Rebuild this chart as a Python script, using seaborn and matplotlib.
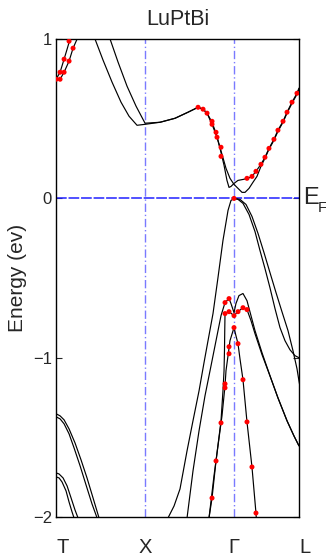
import numpy as np
import matplotlib
matplotlib.use("Agg")
import matplotlib.pyplot as plt
import seaborn as sns

# ── k-path (high symmetry points) ───────────────────────────
kpt_labels = ["T", "X", "\u0393", "L"]
kpt_pos = [0.0, 1.0, 2.0, 2.73]

# ── band energies (eV) ──────────────────────────────────────
# conduction bands
cb1_k = [0, 0.045, 0.090, 0.124, 0.157, 0.191]
cb1_e = [0.748, 0.792, 0.874, 0.937, 1.0, 1.069]
cb2_k = [0, 0.045, 0.090, 0.146, 0.191, 0.236, 0.270]
cb2_e = [0.748, 0.748, 0.792, 0.862, 0.943, 1.0, 1.057]

cb3_k = [0.416, 0.438, 0.528, 0.629, 0.730, 0.820, 0.910, 1.0, 1.169, 1.337, 1.483,
         1.596, 1.652, 1.697, 1.753, 1.798, 1.843, 1.888, 1.921, 1.944, 1.966, 2.0,
         2.045, 2.101, 2.157, 2.202, 2.247, 2.303, 2.348, 2.393, 2.449, 2.494, 2.551,
         2.596, 2.652, 2.708, 2.730]
cb3_e = [1.044, 1.0, 0.868, 0.730, 0.604, 0.516, 0.459, 0.465, 0.478, 0.503, 0.541,
         0.572, 0.560, 0.535, 0.478, 0.409, 0.314, 0.208, 0.113, 0.069, 0.075, 0.094,
         0.113, 0.119, 0.126, 0.138, 0.170, 0.214, 0.258, 0.314, 0.371, 0.428, 0.484,
         0.541, 0.604, 0.660, 0.692]
cb4_k = [0.584, 0.607, 0.697, 0.798, 0.899, 1.0, 1.169, 1.337, 1.483, 1.596, 1.652,
         1.697, 1.753, 1.809, 1.865, 1.910, 1.955, 2.0, 2.045, 2.090, 2.124, 2.169,
         2.213, 2.258, 2.303, 2.348, 2.393, 2.449, 2.494, 2.551, 2.596, 2.652, 2.708,
         2.730]
cb4_e = [1.044, 1.0, 0.855, 0.704, 0.579, 0.472, 0.478, 0.503, 0.541, 0.572, 0.560,
         0.535, 0.465, 0.384, 0.277, 0.189, 0.126, 0.088, 0.063, 0.038, 0.038, 0.063,
         0.101, 0.138, 0.201, 0.252, 0.308, 0.365, 0.421, 0.478, 0.535, 0.597, 0.654,
         0.686]

# valence bands
vb1_k = [2.0, 1.966, 1.933, 1.876, 1.820, 1.764, 1.708, 1.663, 1.607, 1.539, 1.472,
         1.393, 1.326, 1.258, 1.213]
vb1_e = [0.0, -0.013, -0.075, -0.264, -0.497, -0.723, -0.893, -1.031, -1.208, -1.396,
         -1.585, -1.824, -1.931, -2.006, -2.057]
vb2_k = [2.0, 2.045, 2.101, 2.169, 2.236, 2.292, 2.348, 2.404, 2.461, 2.517, 2.573,
         2.629, 2.685, 2.730]
vb2_e = [0.0, -0.006, -0.031, -0.101, -0.208, -0.327, -0.440, -0.560, -0.692, -0.811,
         -0.893, -0.950, -0.987, -1.0]
vb3_k = [2.0, 2.067, 2.135, 2.202, 2.270, 2.337, 2.404, 2.472, 2.539, 2.607, 2.663,
         2.708, 2.730, 2.742]
vb3_e = [0.0, -0.006, -0.038, -0.113, -0.220, -0.340, -0.465, -0.591, -0.711, -0.830,
         -0.956, -1.069, -1.145, -1.182]
vb4_k = [1.449, 1.472, 1.539, 1.607, 1.674, 1.742, 1.809, 1.854, 1.899, 1.944, 1.966,
         2.0, 2.022, 2.056, 2.101, 2.146, 2.191, 2.236, 2.315, 2.404, 2.494, 2.596,
         2.674, 2.730]
vb4_e = [-2.069, -2.006, -1.711, -1.459, -1.239, -1.050, -0.862, -0.736, -0.654,
         -0.629, -0.660, -0.717, -0.660, -0.610, -0.597, -0.642, -0.736, -0.830,
         -0.969, -1.113, -1.252, -1.396, -1.491, -1.553]
vb5_k = [1.697, 1.719, 1.753, 1.798, 1.854, 1.876, 1.888, 1.893, 1.896, 1.899, 1.944,
         2.0, 2.045, 2.101, 2.146, 2.191, 2.236, 2.315, 2.404, 2.494, 2.596, 2.674,
         2.730]
vb5_e = [-2.069, -2.006, -1.881, -1.648, -1.396, -1.208, -1.082, -0.956, -0.830,
         -0.723, -0.711, -0.736, -0.711, -0.686, -0.698, -0.767, -0.849, -0.981,
         -1.113, -1.252, -1.396, -1.491, -1.553]
vb6_k = [1.697, 1.719, 1.742, 1.775, 1.820, 1.865, 1.899, 1.910, 1.933, 1.955, 2.0,
         2.022, 2.045, 2.067, 2.101, 2.146, 2.202, 2.247, 2.258]
vb6_e = [-2.069, -2.006, -1.899, -1.742, -1.553, -1.365, -1.176, -1.082, -0.987,
         -0.893, -0.811, -0.862, -0.912, -1.006, -1.138, -1.403, -1.686, -1.975, -2.069]

# deep bands near T
tb1_k = [0, 0.045, 0.090, 0.146, 0.213, 0.281, 0.348, 0.416, 0.483, 0.506]
tb1_e = [-1.352, -1.365, -1.390, -1.447, -1.535, -1.642, -1.755, -1.881, -2.006, -2.050]
tb2_k = [0, 0.045, 0.090, 0.146, 0.202, 0.270, 0.337, 0.404, 0.461, 0.483]
tb2_e = [-1.371, -1.384, -1.415, -1.478, -1.566, -1.679, -1.799, -1.918, -2.006, -2.050]
tb3_k = [0, 0.034, 0.079, 0.124, 0.169, 0.213, 0.247, 0.270]
tb3_e = [-1.723, -1.730, -1.755, -1.805, -1.881, -1.956, -2.006, -2.050]
tb4_k = [0, 0.034, 0.067, 0.112, 0.146, 0.180, 0.202, 0.225]
tb4_e = [-1.748, -1.755, -1.780, -1.836, -1.906, -1.969, -2.006, -2.050]

bands = [(cb1_k, cb1_e), (cb2_k, cb2_e), (cb3_k, cb3_e), (cb4_k, cb4_e),
         (vb1_k, vb1_e), (vb2_k, vb2_e), (vb3_k, vb3_e), (vb4_k, vb4_e),
         (vb5_k, vb5_e), (vb6_k, vb6_e),
         (tb1_k, tb1_e), (tb2_k, tb2_e), (tb3_k, tb3_e), (tb4_k, tb4_e)]

# orbital-weight markers (red dots)
dot_k = [0, 0.045, 0.045, 0.090, 0.090, 0.146, 0.146, 0.191,
         1.596, 1.652, 1.697, 1.753, 1.753, 1.798, 1.809, 1.854, 1.854,
         2.146, 2.202, 2.247, 2.303, 2.348, 2.393, 2.449, 2.494, 2.551, 2.596, 2.652, 2.708,
         2.0,
         1.899, 1.944, 1.899, 1.944, 2.0, 2.045, 2.101, 2.146,
         2.0, 1.944, 1.944, 2.045, 1.899, 1.899, 1.854, 1.798, 1.753,
         2.101, 2.146, 2.202, 2.247]
dot_e = [0.748, 0.748, 0.792, 0.792, 0.874, 0.862, 0.987, 0.943,
         0.572, 0.560, 0.535, 0.484, 0.465, 0.415, 0.384, 0.321, 0.264,
         0.126, 0.138, 0.170, 0.214, 0.258, 0.314, 0.371, 0.428, 0.484, 0.541, 0.604, 0.660,
         0.0,
         -0.654, -0.629, -0.723, -0.711, -0.736, -0.711, -0.686, -0.698,
         -0.811, -0.931, -0.975, -0.912, -1.164, -1.189, -1.409, -1.648, -1.881,
         -1.138, -1.403, -1.686, -1.975]

yticks = [-2, -1, 0, 1]
ytick_labels = ["\u22122", "\u22121", "0", "1"]

# ── plot ────────────────────────────────────────────────────
sns.set_style("ticks")
plt.rcParams["font.family"] = ["Liberation Sans", "DejaVu Sans"]

fig = plt.figure(figsize=(3.26, 5.57), dpi=100)
ax = fig.add_axes([0.172, 0.0718, 0.745, 0.858])

for kx in kpt_pos[1:3]:
    ax.axvline(kx, color="#7a7aff", lw=1.0, ls=(0, (6, 2, 1, 2)), zorder=1)
ax.axhline(0, color="#2020ff", lw=1.1, ls=(0, (7, 1.2)), zorder=1)

for k, e in bands:
    sns.lineplot(x=k, y=e, sort=False, estimator=None, color="black",
                 lw=0.85, ax=ax, zorder=2)

sns.scatterplot(x=dot_k, y=dot_e, color="red", s=13, edgecolor="none",
                ax=ax, zorder=3)

ax.set_xlim(kpt_pos[0], kpt_pos[-1])
ax.set_ylim(-2, 1)
ax.set_yticks(yticks)
ax.set_yticklabels(ytick_labels, fontsize=12)
ax.set_xticks(kpt_pos)
ax.set_xticklabels(kpt_labels, fontsize=14.5)
for lab, ha in zip(ax.get_xticklabels(), ["left", "center", "center", "left"]):
    lab.set_ha(ha)
ax.tick_params(axis="x", length=0, pad=15)
ax.tick_params(axis="y", direction="in", length=4, width=0.8, right=True, pad=3)

for sp in ax.spines.values():
    sp.set_visible(True)
    sp.set_linewidth(1.0)
    sp.set_color("black")

ax.set_title("LuPtBi", fontsize=15.5, pad=10)
ax.set_ylabel("Energy (ev)", fontsize=15)
ax.yaxis.set_label_coords(-0.119, 0.5)

ax.annotate("E", xy=(1, 0), xycoords=("axes fraction", "data"),
            xytext=(3, 0), textcoords="offset points",
            ha="left", va="center", fontsize=17, annotation_clip=False)
ax.annotate("F", xy=(1, 0), xycoords=("axes fraction", "data"),
            xytext=(13.5, -7), textcoords="offset points",
            ha="left", va="center", fontsize=11, annotation_clip=False)

plt.savefig("out.png", dpi=100)
